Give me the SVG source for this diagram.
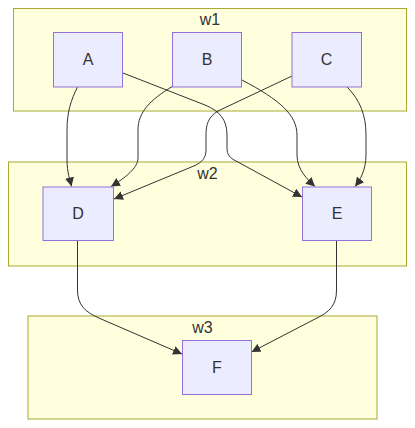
<svg xmlns="http://www.w3.org/2000/svg" width="415" height="428" viewBox="0 0 415 428">
<style>
.cluster rect{fill:#ffffde;stroke:#aaaa33;stroke-width:1}
.node rect{fill:#ececff;stroke:#9370db;stroke-width:1}
text{font-family:"Liberation Sans","DejaVu Sans",sans-serif;font-size:16px;fill:#333;text-anchor:middle}
.edge{fill:none;stroke:#333;stroke-width:1;marker-end:url(#arrow)}
</style>
<defs>
<marker id="arrow" viewBox="0 0 10 10" refX="10" refY="5" markerUnits="userSpaceOnUse" markerWidth="9" markerHeight="9" orient="auto">
<path d="M0,0 L10,5 L0,10 z" fill="#333" stroke="none"/>
</marker>
</defs>
<rect width="415" height="428" fill="#ffffff"/>
<g id="clusters">
<g id="w1" class="cluster"><rect x="13.5" y="8.5" width="393" height="102.5"/><text x="210" y="25">w1</text></g>
<g id="w2" class="cluster"><rect x="8.5" y="162" width="398" height="104"/><text x="207.5" y="178.5">w2</text></g>
<g id="w3" class="cluster"><rect x="28" y="316" width="349" height="103"/><text x="202.5" y="333">w3</text></g>
</g>
<g id="edges">
<path class="edge" d="M77.5,87 C71,100 67,112 67,130 L67,160 C67,172 70,180 71.5,186.5"/>
<path class="edge" d="M123,73 L205,105 C220,111 227,120 227,135 L227,148 C227,155 230,158 236,161 L302,197"/>
<path class="edge" d="M173,86 C150,100 138,112 138,130 L138,158 C138,168 125,178 111,186.5"/>
<path class="edge" d="M242,80 C280,100 297,115 297,135 L297,155 C297,170 308,180 315,186.5"/>
<path class="edge" d="M292,76 L218,111 C208,117 206,125 206,135 L206,150 C206,158 202,162 195,165.5 L114,199"/>
<path class="edge" d="M347,87 C360,100 366,115 366,135 L366,155 C366,170 360,180 355,186.5"/>
<path class="edge" d="M77.5,240.5 L77.5,290 C77.5,305 85,312 100,318.5 L182,354"/>
<path class="edge" d="M336.5,240.5 L336.5,290 C336.5,305 330,312 315,319 L251.5,352"/>
</g>
<g id="A" class="node"><rect x="53.5" y="32.5" width="69" height="54.5"/><text x="88" y="65">A</text></g>
<g id="B" class="node"><rect x="172.5" y="32.5" width="69" height="54.5"/><text x="207" y="65">B</text></g>
<g id="C" class="node"><rect x="292" y="32.5" width="69.5" height="54.5"/><text x="326.5" y="65">C</text></g>
<g id="D" class="node"><rect x="43" y="187" width="70.5" height="53.5"/><text x="78" y="219">D</text></g>
<g id="E" class="node"><rect x="302.5" y="187" width="69" height="53.5"/><text x="337" y="219">E</text></g>
<g id="F" class="node"><rect x="182.5" y="340.5" width="69" height="54"/><text x="217" y="373">F</text></g>
</svg>
